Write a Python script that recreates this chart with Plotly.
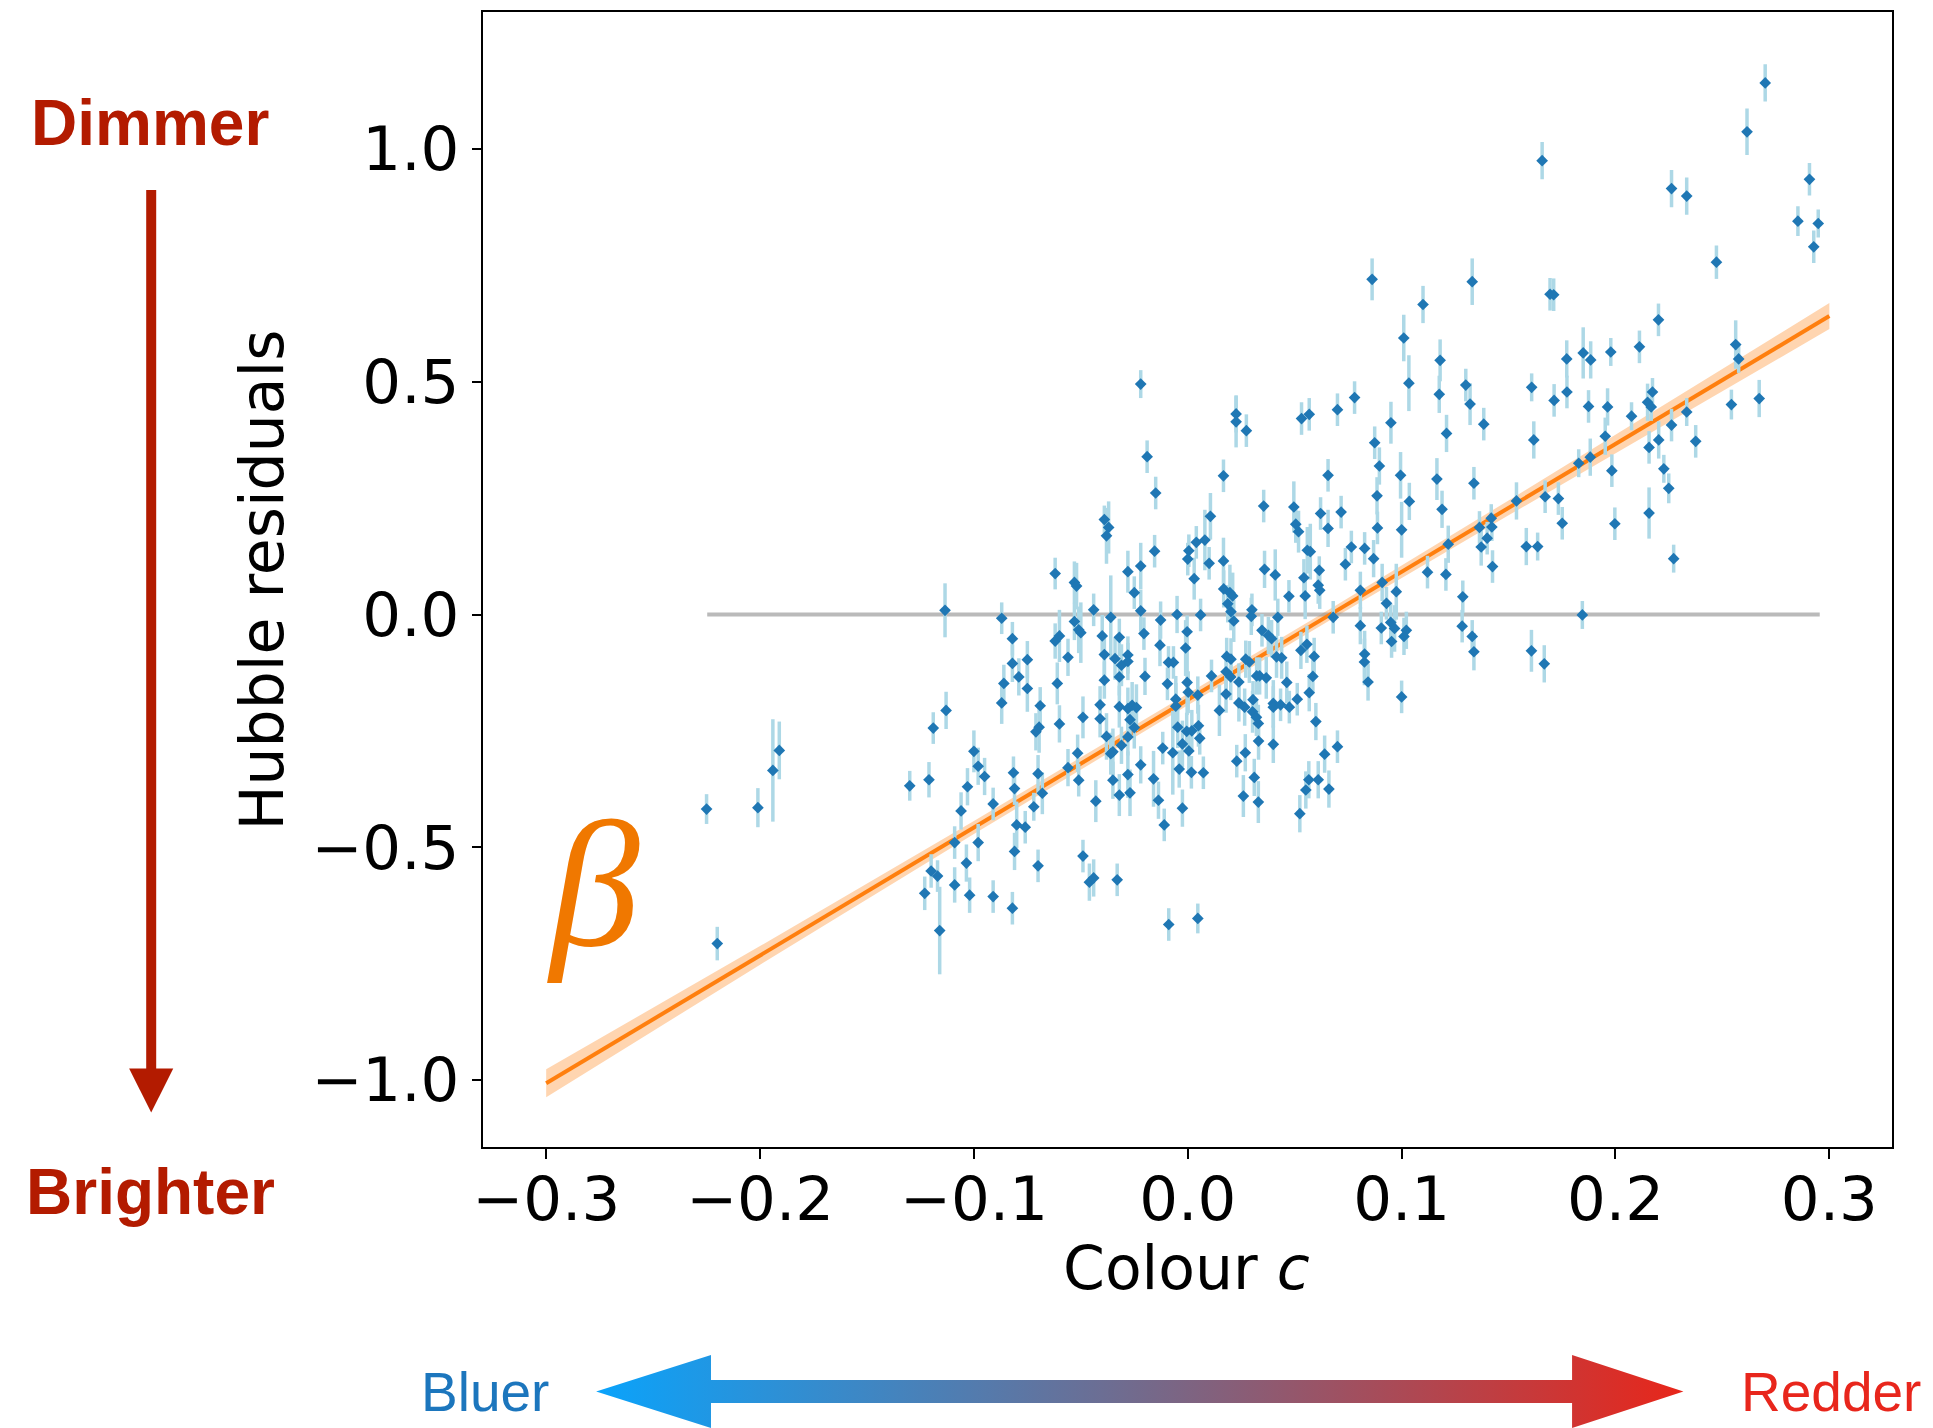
import numpy as np
import plotly.graph_objects as go

# ---------------- data ----------------
colour = [
    -0.225, -0.220, -0.201, -0.194, -0.191, -0.130, -0.121, -0.119, -0.113, -0.120,
    -0.117, -0.123, -0.116, -0.1135,
    -0.087, -0.082, -0.082, -0.079, -0.086, -0.075, -0.075, -0.062, -0.062, -0.060,
    -0.061, -0.056, -0.053, -0.052, -0.053, -0.051, -0.050, -0.044, -0.039, -0.037,
    -0.038, -0.036, -0.040, -0.039, -0.039, -0.034, -0.032, -0.031, -0.032, -0.028,
    -0.028, -0.028,
    -0.087, -0.069, -0.071, -0.0695, -0.060, -0.049, -0.041, -0.041, -0.032, -0.028,
    -0.027, -0.038, -0.036, -0.035, -0.031, -0.028, -0.100, -0.098, -0.095, -0.103,
    -0.106, -0.109, -0.1035, -0.109, -0.102, -0.098, -0.091, -0.091, -0.082, -0.0815,
    -0.081, -0.080, -0.081, -0.076, -0.070, -0.068, -0.072, -0.070, -0.056, -0.0515,
    -0.051, -0.043, -0.049, -0.046, -0.044, -0.033, -0.035, -0.032, -0.028, -0.027,
    -0.022, -0.019, -0.015, -0.0155, -0.022, -0.025, -0.022, -0.0205, -0.013, -0.0127,
    -0.020, -0.009, -0.0067, -0.0095, -0.005, 0.000, 0.0005, 0.003, 0.004, 0.008,
    0.0106, 0.010, 0.006, -0.0003, -0.001, -0.0003, 0.0002, 0.0047, 0.0167, 0.0226,
    0.0226, 0.0274, 0.0167, 0.0168, 0.0197, 0.021, 0.0187, 0.0202, 0.0215, 0.030,
    0.0297, 0.0182, 0.0202, 0.0111, 0.0179, 0.0201, 0.0239, 0.0179, 0.0271, 0.0288,
    0.0355, 0.0359, 0.0409, 0.0421, 0.0347, 0.0377, 0.0392, 0.0415, 0.0439, 0.0322,
    0.0336, 0.0367, 0.0463, 0.0496, 0.0505, 0.0518, 0.0532, 0.0568, 0.0559, 0.0573,
    0.0473, 0.0543, 0.0549, 0.0557, 0.0529, 0.0568,
    -0.026, -0.024, -0.025, -0.022, -0.016, -0.0137, -0.011, -0.0117, -0.007, -0.0056,
    -0.0056, -0.0047, -0.0025, -0.0005, 0.0019, 0.0005, -0.004, 0.0017, -0.0025, 0.005,
    0.0056, 0.0073, -0.0089, 0.0047, 0.0148, 0.0239, 0.0266, 0.0305, 0.0303, 0.0321,
    0.033, 0.0331, 0.0269, 0.0229, 0.0311, 0.026, 0.033, 0.040, 0.040, 0.0434,
    0.0475, 0.0512, 0.040, 0.0566, 0.0552, 0.0524,
    0.0862, 0.133, 0.110, 0.101, 0.118, 0.1034, 0.1176, 0.130, 0.132, 0.121,
    0.070, 0.078, 0.095, 0.0874, 0.0896, 0.0656, 0.0995, 0.1165, 0.1338, 0.0885,
    0.1036, 0.1189, 0.0621, 0.0717, 0.0656, 0.0887, 0.100, 0.1218, 0.0765, 0.0827,
    0.1364, 0.0869, 0.1372,
    0.0737, 0.0615, 0.061, 0.0617, 0.0807, 0.0909, 0.0975, 0.0929, 0.1121, 0.1207,
    0.1286, 0.068, 0.0807, 0.0905, 0.0949, 0.0967, 0.0953, 0.1022, 0.1011, 0.1283,
    0.133, 0.1338, 0.0591, 0.0585, 0.0599, 0.070, 0.0827, 0.0826, 0.0843, 0.100,
    0.061, 0.066, 0.064,
    0.1657, 0.1694, 0.1711, 0.2201, 0.1772, 0.1849, 0.1884, 0.1978, 0.2112, 0.1608,
    0.1773, 0.1713, 0.1874, 0.1963, 0.215, 0.2173, 0.2167, 0.1384, 0.1618, 0.2075,
    0.1952, 0.2202, 0.2157, 0.1828, 0.1882, 0.1983, 0.1537, 0.1671, 0.1733, 0.1751,
    0.1997, 0.2157, 0.1419, 0.1422, 0.1400, 0.1425, 0.1583, 0.1636, 0.1845, 0.1607,
    0.1667,
    0.270, 0.2615, 0.2262, 0.2333, 0.2907, 0.2853, 0.2948, 0.2927, 0.2472, 0.2562,
    0.2576, 0.2333, 0.2262, 0.2375, 0.2542, 0.2672, 0.2226, 0.2249, 0.2272,
]

resid = [
    -0.418, -0.707, -0.415, -0.335, -0.292, -0.368, -0.355, -0.244, -0.206, -0.551,
    -0.562, -0.599, -0.679, 0.009,
    -0.008, -0.052, -0.105, -0.134, -0.148, -0.097, -0.159, 0.088, -0.057, -0.046,
    -0.148, -0.092, 0.069, 0.061, -0.015, -0.033, -0.039, 0.010, 0.204, 0.187,
    0.169, -0.006, -0.046, -0.086, -0.141, -0.095, -0.049, -0.109, -0.134, 0.092,
    -0.087, -0.101,
    -0.190, -0.196, -0.252, -0.242, -0.235, -0.221, -0.194, -0.224, -0.198, -0.202,
    -0.226, -0.262, -0.299, -0.295, -0.281, -0.263, -0.294, -0.326, -0.348, -0.370,
    -0.422, -0.490, -0.534, -0.581, -0.603, -0.490, -0.407, -0.606, -0.631, -0.340,
    -0.374, -0.452, -0.509, -0.457, -0.342, -0.384, -0.413, -0.540, -0.329, -0.298,
    -0.356, -0.401, -0.519, -0.575, -0.566, -0.570, -0.356, -0.388, -0.344, -0.383,
    0.495, 0.339, 0.261, 0.136, 0.104, 0.047, 0.008, -0.041, -0.066, -0.012,
    -0.133, -0.103, -0.103, -0.149, 0.000, 0.119, 0.137, 0.077, 0.155, 0.160,
    0.211, 0.110, -0.001, -0.037, -0.072, -0.146, -0.167, -0.173, 0.298, 0.431,
    0.414, 0.395, 0.115, 0.055, 0.047, 0.040, 0.023, 0.006, -0.014, 0.010,
    -0.004, -0.090, -0.096, -0.132, -0.123, -0.134, -0.145, -0.171, -0.096, -0.102,
    0.233, 0.097, 0.085, -0.006, -0.034, -0.045, -0.052, -0.091, -0.093, -0.132,
    -0.132, -0.136, -0.146, 0.231, 0.194, 0.178, 0.421, 0.430, 0.138, 0.135,
    0.039, 0.079, 0.040, -0.064, -0.077, -0.168,
    -0.195, -0.200, -0.243, -0.323, -0.353, -0.399, -0.452, -0.287, -0.297, -0.182,
    -0.197, -0.242, -0.278, -0.251, -0.250, -0.293, -0.332, -0.339, -0.416, -0.239,
    -0.266, -0.340, -0.666, -0.653, -0.206, -0.190, -0.199, -0.183, -0.209, -0.221,
    -0.234, -0.272, -0.297, -0.315, -0.350, -0.390, -0.403, -0.191, -0.199, -0.194,
    -0.199, -0.182, -0.279, -0.355, -0.377, -0.428,
    0.720, 0.715, 0.666, 0.594, 0.546, 0.497, 0.473, 0.493, 0.452, 0.389,
    0.440, 0.466, 0.412, 0.369, 0.319, 0.299, 0.299, 0.291, 0.282, 0.255,
    0.243, 0.226, 0.217, 0.220, 0.185, 0.186, 0.182, 0.151, 0.145, 0.142,
    0.187, 0.120, 0.145,
    0.108, 0.095, 0.063, 0.052, 0.052, 0.069, 0.049, 0.024, 0.091, 0.086,
    0.038, -0.006, -0.024, -0.029, -0.017, -0.030, -0.058, -0.034, -0.047, -0.025,
    -0.047, -0.080, -0.090, -0.133, -0.230, -0.284, -0.085, -0.102, -0.145, -0.177,
    -0.355, -0.375, -0.300,
    0.975, 0.688, 0.687, 0.633, 0.549, 0.562, 0.547, 0.564, 0.575, 0.488,
    0.478, 0.460, 0.447, 0.446, 0.456, 0.478, 0.446, 0.409, 0.375, 0.426,
    0.383, 0.375, 0.359, 0.325, 0.338, 0.309, 0.244, 0.253, 0.249, 0.196,
    0.195, 0.218, 0.207, 0.188, 0.164, 0.103, 0.146, 0.146, -0.001, -0.078,
    -0.106,
    1.142, 1.037, 0.915, 0.899, 0.935, 0.845, 0.840, 0.790, 0.757, 0.580,
    0.549, 0.435, 0.407, 0.372, 0.451, 0.464, 0.313, 0.271, 0.120,
]

resid_err = [
    0.032, 0.036, 0.042, 0.110, 0.062, 0.032, 0.038, 0.034, 0.040, 0.036,
    0.034, 0.036, 0.094, 0.058,
    0.034, 0.036, 0.040, 0.040, 0.040, 0.040, 0.050, 0.034, 0.038, 0.056,
    0.045, 0.040, 0.045, 0.050, 0.040, 0.050, 0.065, 0.035, 0.030, 0.056,
    0.060, 0.090, 0.045, 0.045, 0.040, 0.045, 0.040, 0.045, 0.040, 0.045,
    0.040, 0.040,
    0.045, 0.040, 0.040, 0.055, 0.040, 0.045, 0.040, 0.040, 0.045, 0.045,
    0.040, 0.050, 0.045, 0.050, 0.040, 0.040, 0.045, 0.040, 0.040, 0.040,
    0.040, 0.035, 0.040, 0.038, 0.038, 0.040, 0.035, 0.035, 0.035, 0.035,
    0.035, 0.050, 0.040, 0.035, 0.040, 0.045, 0.030, 0.035, 0.040, 0.040,
    0.035, 0.045, 0.035, 0.040, 0.040, 0.035, 0.040, 0.045, 0.050, 0.050,
    0.030, 0.035, 0.035, 0.035, 0.050, 0.035, 0.045, 0.035, 0.045, 0.040,
    0.040, 0.035, 0.035, 0.035, 0.040, 0.035, 0.035, 0.045, 0.035, 0.065,
    0.050, 0.035, 0.035, 0.035, 0.060, 0.070, 0.045, 0.040, 0.035, 0.040,
    0.055, 0.035, 0.050, 0.040, 0.060, 0.050, 0.040, 0.040, 0.045, 0.035,
    0.040, 0.040, 0.045, 0.035, 0.040, 0.050, 0.040, 0.040, 0.040, 0.045,
    0.035, 0.040, 0.055, 0.040, 0.035, 0.040, 0.040, 0.045, 0.045, 0.040,
    0.040, 0.045, 0.045, 0.055, 0.040, 0.045, 0.035, 0.035, 0.050, 0.060,
    0.035, 0.040, 0.050, 0.040, 0.040, 0.040,
    0.050, 0.050, 0.045, 0.040, 0.060, 0.040, 0.035, 0.035, 0.090, 0.050,
    0.050, 0.045, 0.050, 0.040, 0.045, 0.045, 0.040, 0.035, 0.040, 0.045,
    0.035, 0.035, 0.035, 0.032, 0.055, 0.040, 0.040, 0.040, 0.045, 0.040,
    0.040, 0.040, 0.040, 0.035, 0.040, 0.045, 0.045, 0.050, 0.045, 0.035,
    0.035, 0.035, 0.040, 0.040, 0.040, 0.040,
    0.045, 0.050, 0.040, 0.050, 0.045, 0.060, 0.040, 0.035, 0.045, 0.040,
    0.035, 0.035, 0.045, 0.035, 0.040, 0.035, 0.050, 0.045, 0.035, 0.040,
    0.040, 0.040, 0.035, 0.035, 0.040, 0.035, 0.060, 0.040, 0.035, 0.035,
    0.035, 0.040, 0.040,
    0.035, 0.030, 0.040, 0.040, 0.040, 0.040, 0.060, 0.035, 0.035, 0.035,
    0.035, 0.035, 0.040, 0.035, 0.040, 0.050, 0.035, 0.040, 0.040, 0.035,
    0.035, 0.040, 0.040, 0.035, 0.040, 0.035, 0.050, 0.050, 0.040, 0.035,
    0.040, 0.040, 0.040,
    0.040, 0.035, 0.035, 0.035, 0.040, 0.055, 0.040, 0.030, 0.035, 0.030,
    0.035, 0.035, 0.035, 0.040, 0.040, 0.030, 0.030, 0.035, 0.040, 0.030,
    0.040, 0.040, 0.035, 0.030, 0.040, 0.035, 0.040, 0.035, 0.035, 0.035,
    0.035, 0.055, 0.030, 0.030, 0.035, 0.035, 0.040, 0.030, 0.030, 0.045,
    0.040,
    0.040, 0.050, 0.040, 0.040, 0.035, 0.032, 0.030, 0.035, 0.036, 0.052,
    0.030, 0.030, 0.035, 0.035, 0.032, 0.040, 0.030, 0.032, 0.030,
]

# fitted colour-luminosity relation (slope beta, intercept) and its 1-sigma band
fit_beta = 2.747
fit_intercept = -0.183
fit_range = [-0.3, 0.3]
band_x = [-0.3, -0.2, -0.1, 0.0, 0.07, 0.15, 0.22, 0.3]
band_halfwidth = [0.030, 0.020, 0.014, 0.012, 0.012, 0.016, 0.022, 0.028]

zero_line_x = [-0.2247, 0.2955]

x_ticks = [-0.3, -0.2, -0.1, 0.0, 0.1, 0.2, 0.3]
y_ticks = [-1.0, -0.5, 0.0, 0.5, 1.0]

# ---------------- figure ----------------
W, H = 1933, 1428
fig = go.Figure()

bx = np.array(band_x)
bh = np.array(band_halfwidth)
b_mid = fit_intercept + fit_beta * bx
fig.add_trace(go.Scatter(
    x=np.concatenate([bx, bx[::-1]]),
    y=np.concatenate([b_mid + bh, (b_mid - bh)[::-1]]),
    fill="toself", fillcolor="rgba(255,127,14,0.33)",
    line=dict(width=0), mode="lines", hoverinfo="skip", xaxis="x", yaxis="y"))

fig.add_trace(go.Scatter(
    x=zero_line_x, y=[0, 0], mode="lines",
    line=dict(color="rgba(140,140,140,0.6)", width=4), hoverinfo="skip"))

fx = np.array(fit_range)
fig.add_trace(go.Scatter(
    x=fx, y=fit_intercept + fit_beta * fx, mode="lines",
    line=dict(color="#ff7f0e", width=4), hoverinfo="skip"))

fig.add_trace(go.Scatter(
    x=colour, y=resid, mode="markers",
    marker=dict(symbol="diamond", size=9, color="#1f77b4", line=dict(width=0)),
    error_y=dict(type="data", array=resid_err, visible=True,
                 color="#add8e6", thickness=3.5, width=0)))

# gradient double arrow (Bluer <-> Redder) drawn on a pixel-space overlay axis
arrow_x = [588.5, 704, 704, 1570, 1570, 1682, 1570, 1570, 704, 704, 588.5]
arrow_y = [1391.5, 1355, 1380, 1380, 1355, 1391.5, 1428, 1403, 1403, 1428, 1391.5]
fig.add_trace(go.Scatter(
    x=arrow_x, y=arrow_y, xaxis="x2", yaxis="y2", mode="lines",
    fill="toself", line=dict(width=0, color="rgba(0,0,0,0)"),
    fillgradient=dict(type="horizontal",
                      colorscale=[[0, "#0aa3fb"], [0.5, "#736a8c"], [1, "#e8261a"]]),
    hoverinfo="skip"))

axis_common = dict(showgrid=False, zeroline=False, showline=True, mirror=True,
                   linecolor="black", linewidth=1.5, ticks="outside", ticklen=10,
                   tickwidth=1.5, tickcolor="black", tickformat=".1f",
                   tickfont=dict(family="DejaVu Sans", size=61, color="black"))

fig.update_layout(
    width=W, height=H, autosize=False,
    margin=dict(l=0, r=0, t=0, b=0, pad=0),
    paper_bgcolor="white", plot_bgcolor="rgba(0,0,0,0)",
    showlegend=False,
    xaxis=dict(domain=[475 / W, 1892 / W], range=[-0.3294, 0.3294],
               tickvals=x_ticks, anchor="y", ticklabelstandoff=-12, **axis_common),
    yaxis=dict(domain=[1 - 1147 / H, 1 - 12 / H], range=[-1.144, 1.2944],
               tickvals=y_ticks, anchor="x", **axis_common),
    xaxis2=dict(domain=[0, 1], range=[0, W], visible=False, anchor="y2", fixedrange=True),
    yaxis2=dict(domain=[0, 1], range=[H, 0], visible=False, anchor="x2", fixedrange=True),
)

dark_red = "#b31b00"
# vertical arrow Dimmer -> Brighter
fig.add_shape(type="line", xref="x2", yref="y2", x0=141, x1=141, y0=190, y1=1072,
              line=dict(color=dark_red, width=10))
fig.add_shape(type="path", xref="x2", yref="y2",
              path="M 118.8,1068.6 L 163.2,1068.6 L 141,1112.6 Z",
              fillcolor=dark_red, line=dict(width=0))

def note(text, x, y, size, color, family, angle=0, xanchor="center"):
    fig.add_annotation(text=text, x=x, y=y, xref="x2", yref="y2", showarrow=False,
                       xanchor=xanchor, yanchor="middle", textangle=angle,
                       font=dict(family=family, size=size, color=color))

note("<b>Dimmer</b>", 140, 123, 64, dark_red, "Liberation Sans")
note("<b>Brighter</b>", 140, 1192, 64, dark_red, "Liberation Sans")
note("Bluer", 477, 1392, 55, "#1c76bd", "Liberation Sans")
note("Redder", 1830, 1392, 55, "#e8261c", "Liberation Sans")
note("<i>β</i>", 586, 884, 180, "#f07800", "Liberation Serif")
note("Colour <i>c</i>", 1182.5, 1268, 60, "black", "DejaVu Sans")
note("Hubble residuals", 252, 580, 60, "black", "DejaVu Sans", angle=-90)

fig.write_html("out.html", config={"displayModeBar": False},
               post_script="document.body.style.margin='0';")
